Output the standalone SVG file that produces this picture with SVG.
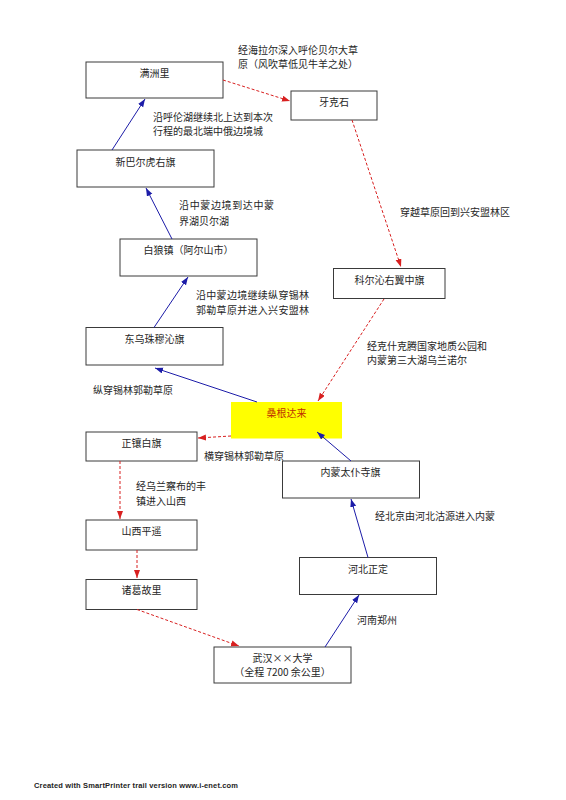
<svg xmlns="http://www.w3.org/2000/svg" width="566" height="800" viewBox="0 0 566 800">
<defs>
<style>
.box{fill:#fff;stroke:#3a3a3a;stroke-width:1}
.t{font-family:"Noto Sans CJK SC","Liberation Serif",serif;font-size:10px;fill:#262626}
.c{text-anchor:middle}
.blue{stroke:#1c1ca8;stroke-width:1;fill:none;marker-end:url(#ab)}
.red{stroke:#d82020;stroke-width:1;fill:none;stroke-dasharray:3,2;marker-end:url(#ar)}
</style>
<marker id="ab" markerUnits="userSpaceOnUse" markerWidth="9" markerHeight="7" refX="8" refY="3" orient="auto"><path d="M0,0 L8,3 L0,6 z" fill="#1c1ca8"/></marker>
<marker id="ar" markerUnits="userSpaceOnUse" markerWidth="9" markerHeight="7" refX="8" refY="3" orient="auto"><path d="M0,0 L8,3 L0,6 z" fill="#d82020"/></marker>
</defs>
<rect width="566" height="800" fill="#fff"/>
<g id="labels" class="t">
<text x="238" y="54">经海拉尔深入呼伦贝尔大草</text>
<text x="238" y="68">原（风吹草低见牛羊之处）</text>
<text x="153" y="120.5">沿呼伦湖继续北上达到本次</text>
<text x="153" y="134.5">行程的最北端中俄边境城</text>
<text x="179" y="208.5" textLength="95">沿中蒙边境到达中蒙</text>
<text x="179" y="224.5">界湖贝尔湖</text>
<text x="400" y="216">穿越草原回到兴安盟林区</text>
<text x="196" y="298.5" textLength="113">沿中蒙边境继续纵穿锡林</text>
<text x="196" y="313.5" textLength="113">郭勒草原并进入兴安盟林</text>
<text x="367" y="349.5">经克什克腾国家地质公园和</text>
<text x="367" y="364">内蒙第三大湖乌兰诺尔</text>
<text x="93" y="393.5">纵穿锡林郭勒草原</text>
<text x="204" y="460">横穿锡林郭勒草原</text>
<text x="136" y="490">经乌兰察布的丰</text>
<text x="136" y="504.5">镇进入山西</text>
<text x="375" y="520">经北京由河北沽源进入内蒙</text>
<text x="357" y="623.5">河南郑州</text>
</g>
<g id="n-manzhouli"><rect class="box" x="86" y="62" width="137" height="36"/><text class="t c" x="154.5" y="77">满洲里</text></g>
<g id="n-yakeshi"><rect class="box" x="291" y="91" width="86" height="29"/><text class="t c" x="334" y="105.5">牙克石</text></g>
<g id="n-xinbaerhu"><rect class="box" x="77" y="150" width="137" height="37"/><text class="t c" x="145.5" y="165.5">新巴尔虎右旗</text></g>
<g id="n-bailang"><rect class="box" x="120" y="239" width="137" height="37"/><text class="t c" x="188.5" y="254">白狼镇（阿尔山市）</text></g>
<g id="n-keerqin"><rect class="box" x="333.5" y="268.5" width="111.5" height="30"/><text class="t c" x="389.5" y="283.5">科尔沁右翼中旗</text></g>
<g id="n-dongwu"><rect class="box" x="86" y="327.5" width="137" height="37.5"/><text class="t c" x="154.5" y="343">东乌珠穆沁旗</text></g>
<g id="n-sanggendalai"><rect x="231" y="402" width="111" height="36.5" fill="#ffff00"/><text class="t c" x="286.5" y="417" style="fill:#c03000">桑根达来</text></g>
<g id="n-zhengxiangbai"><rect class="box" x="86" y="432" width="111" height="29"/><text class="t c" x="141.5" y="446.5">正镶白旗</text></g>
<g id="n-taipusi"><rect class="box" x="282.5" y="461" width="137" height="37"/><text class="t c" x="350.5" y="476">内蒙太仆寺旗</text></g>
<g id="n-pingyao"><rect class="box" x="86" y="520" width="111" height="30"/><text class="t c" x="141.5" y="535">山西平遥</text></g>
<g id="n-zhuge"><rect class="box" x="86" y="579.5" width="111" height="30"/><text class="t c" x="141.5" y="594">诸葛故里</text></g>
<g id="n-zhengding"><rect class="box" x="299.5" y="557.5" width="137" height="37"/><text class="t c" x="368" y="572.5">河北正定</text></g>
<g id="n-wuhan"><rect class="box" x="214" y="647" width="137" height="36"/><text class="t c" x="282.5" y="662">武汉××大学</text><text class="t c" x="282.5" y="675.5">（全程 7200 余公里）</text></g>
<g id="connectors">
<line class="red" x1="223" y1="80" x2="290" y2="101"/>
<line class="red" x1="352" y1="120" x2="401" y2="267"/>
<line class="red" x1="384" y1="299" x2="318" y2="401"/>
<line class="red" x1="231" y1="436" x2="198" y2="438"/>
<line class="red" x1="120" y1="461" x2="120" y2="519"/>
<line class="red" x1="137" y1="550" x2="137" y2="578"/>
<line class="red" x1="137" y1="609.5" x2="239" y2="646"/>
<line class="blue" x1="325" y1="647" x2="359" y2="595"/>
<line class="blue" x1="368" y1="557.5" x2="351" y2="499"/>
<line class="blue" x1="351" y1="461" x2="317" y2="432"/>
<line class="blue" x1="257" y1="402" x2="155" y2="368"/>
<line class="blue" x1="154" y1="327.5" x2="188" y2="277"/>
<line class="blue" x1="172" y1="239" x2="146" y2="188"/>
<line class="blue" x1="112" y1="150" x2="145" y2="99"/>
</g>
<text x="34" y="788" textLength="204" style="font-family:'Liberation Sans',sans-serif;font-size:7.5px;font-weight:bold;fill:#222">Created with SmartPrinter trail version www.i-enet.com</text>
</svg>
